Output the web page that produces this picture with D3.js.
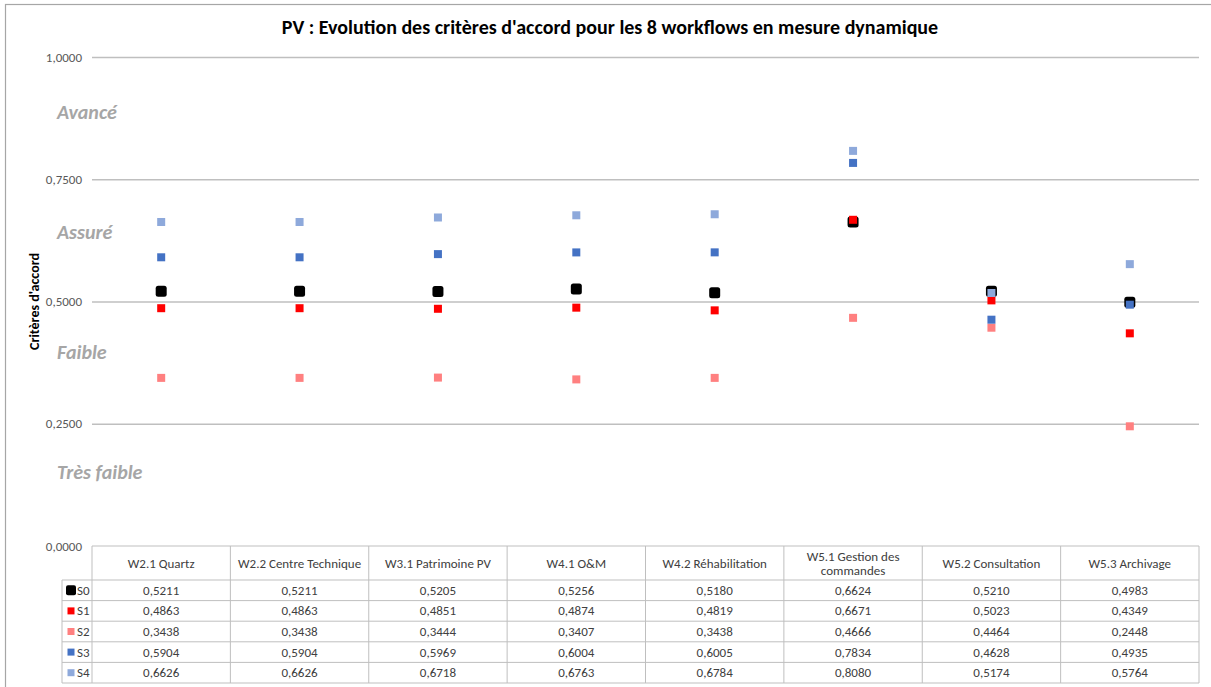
<!DOCTYPE html>
<html><head><meta charset="utf-8">
<script src="https://cdn.jsdelivr.net/npm/d3@7"></script>
<style>body{margin:0;background:#fff}svg{display:block;font-family:Calibri,Carlito,"Open Sans",sans-serif}</style>
</head><body><svg id="c" width="1211" height="687"></svg>
<script>
const categories = ["W2.1 Quartz","W2.2 Centre Technique","W3.1 Patrimoine PV","W4.1 O&M","W4.2 Réhabilitation","W5.1 Gestion des|commandes","W5.2 Consultation","W5.3 Archivage"];
const seriesNames = ["S0","S1","S2","S3","S4"];
const S0 = [0.5211,0.5211,0.5205,0.5256,0.5180,0.6624,0.5210,0.4983];
const S1 = [0.4863,0.4863,0.4851,0.4874,0.4819,0.6671,0.5023,0.4349];
const S2 = [0.3438,0.3438,0.3444,0.3407,0.3438,0.4666,0.4464,0.2448];
const S3 = [0.5904,0.5904,0.5969,0.6004,0.6005,0.7834,0.4628,0.4935];
const S4 = [0.6626,0.6626,0.6718,0.6763,0.6784,0.8080,0.5174,0.5764];
const yTicks = [0,0.25,0.5,0.75,1];
const zones = [{label:"Avancé",v:0.875},{label:"Assuré",v:0.63},{label:"Faible",v:0.385},{label:"Très faible",v:0.14}];
const colors = ["#000000","#FF0000","#FF8080","#4472C4","#8EA9DB"];
const seriesVals = [S0,S1,S2,S3,S4];

const svg = d3.select("#c");
const L = 92, R = 1199, T = 57, B = 546;
const x = d3.scaleBand().domain(categories).range([L,R]);
const y = d3.scaleLinear().domain([0,1]).range([B,T]);
const fmt = v => d3.format(".4f")(v).replace(".",",");
const FF = "Calibri,Carlito,'Open Sans',sans-serif";

// outer border
svg.append("rect").attr("x",5.5).attr("y",4.5).attr("width",1220).attr("height",700)
  .attr("fill","none").attr("stroke","#A6A6A6").attr("stroke-width",1.2);

// title
svg.append("text").attr("x",610).attr("y",34).attr("text-anchor","middle")
  .attr("font-size",20).attr("font-weight","bold").attr("fill","#000")
  .text("PV : Evolution des critères d'accord pour les 8 workflows en mesure dynamique");

// gridlines & axis
const ya = svg.append("g").attr("transform",`translate(${L},0)`)
  .call(d3.axisLeft(y).tickValues(yTicks).tickSize(-(R-L)).tickPadding(10).tickFormat(fmt));
ya.select(".domain").remove();
ya.selectAll(".tick line").attr("stroke","#BFBFBF").attr("stroke-width",1.3);
ya.selectAll(".tick text").attr("fill","#595959").attr("font-size",13).attr("font-family",FF);
ya.selectAll(".tick").filter(d=>d===0).select("line").remove();

// y title
svg.append("text").attr("transform",`translate(39,${y(0.5)}) rotate(-90)`).attr("text-anchor","middle")
  .attr("font-size",14).attr("font-weight","bold").text("Critères d'accord");

// zone labels
svg.selectAll(".zone").data(zones).join("text").attr("class","zone")
  .attr("x",57).attr("y",d=>y(d.v)+1).attr("font-size",20).attr("font-style","italic")
  .attr("font-weight","bold").attr("fill","#A6A6A6").text(d=>d.label);

// markers
seriesVals.forEach((vals,i)=>{
  const s = i===0 ? 11 : 8;
  svg.append("g").selectAll("rect").data(vals).join("rect")
    .attr("x",(d,j)=>x(categories[j])+x.bandwidth()/2-s/2)
    .attr("y",d=>y(d)-s/2).attr("width",s).attr("height",s)
    .attr("rx",i===0?2.5:0).attr("fill",colors[i]);
});

// data table
const hdrTop = 546, hdrBot = 580, rowH = 20.6, legL = 62;
const tg = svg.append("g");
const lineC = "#BFBFBF";
const nRows = seriesNames.length;
const tBot = hdrBot + nRows*rowH;
tg.append("line").attr("x1",L).attr("x2",R).attr("y1",hdrTop).attr("y2",hdrTop).attr("stroke",lineC);
for(let r=0;r<=nRows;r++){
  const yy = hdrBot + r*rowH;
  tg.append("line").attr("x1",legL).attr("x2",R).attr("y1",yy).attr("y2",yy).attr("stroke",lineC);
}
tg.append("line").attr("x1",legL).attr("x2",legL).attr("y1",hdrBot).attr("y2",tBot).attr("stroke",lineC);
categories.forEach(c=>{
  tg.append("line").attr("x1",x(c)).attr("x2",x(c)).attr("y1",hdrTop).attr("y2",tBot).attr("stroke",lineC);
});
tg.append("line").attr("x1",R).attr("x2",R).attr("y1",hdrTop).attr("y2",tBot).attr("stroke",lineC);
categories.forEach(c=>{
  const parts = c.split("|");
  const cx = x(c)+x.bandwidth()/2;
  const mid = (hdrTop+hdrBot)/2;
  parts.forEach((p,k)=>{
    tg.append("text").attr("x",cx).attr("y",mid+4.5+(k-(parts.length-1)/2)*14)
      .attr("text-anchor","middle").attr("font-size",13).attr("fill","#404040").text(p);
  });
});
seriesNames.forEach((name,i)=>{
  const yy = hdrBot + i*rowH;
  const s = i===0 ? 10 : 7;
  tg.append("rect").attr("x",71-s/2).attr("y",yy+rowH/2-s/2).attr("width",s).attr("height",s)
    .attr("rx",i===0?2:0).attr("fill",colors[i]);
  tg.append("text").attr("x",77).attr("y",yy+rowH/2+4.5).attr("font-size",13).attr("fill","#404040").text(name);
  seriesVals[i].forEach((v,j)=>{
    tg.append("text").attr("x",x(categories[j])+x.bandwidth()/2).attr("y",yy+rowH/2+4.5)
      .attr("text-anchor","middle").attr("font-size",13).attr("fill","#404040").text(fmt(v));
  });
});
</script></body></html>
